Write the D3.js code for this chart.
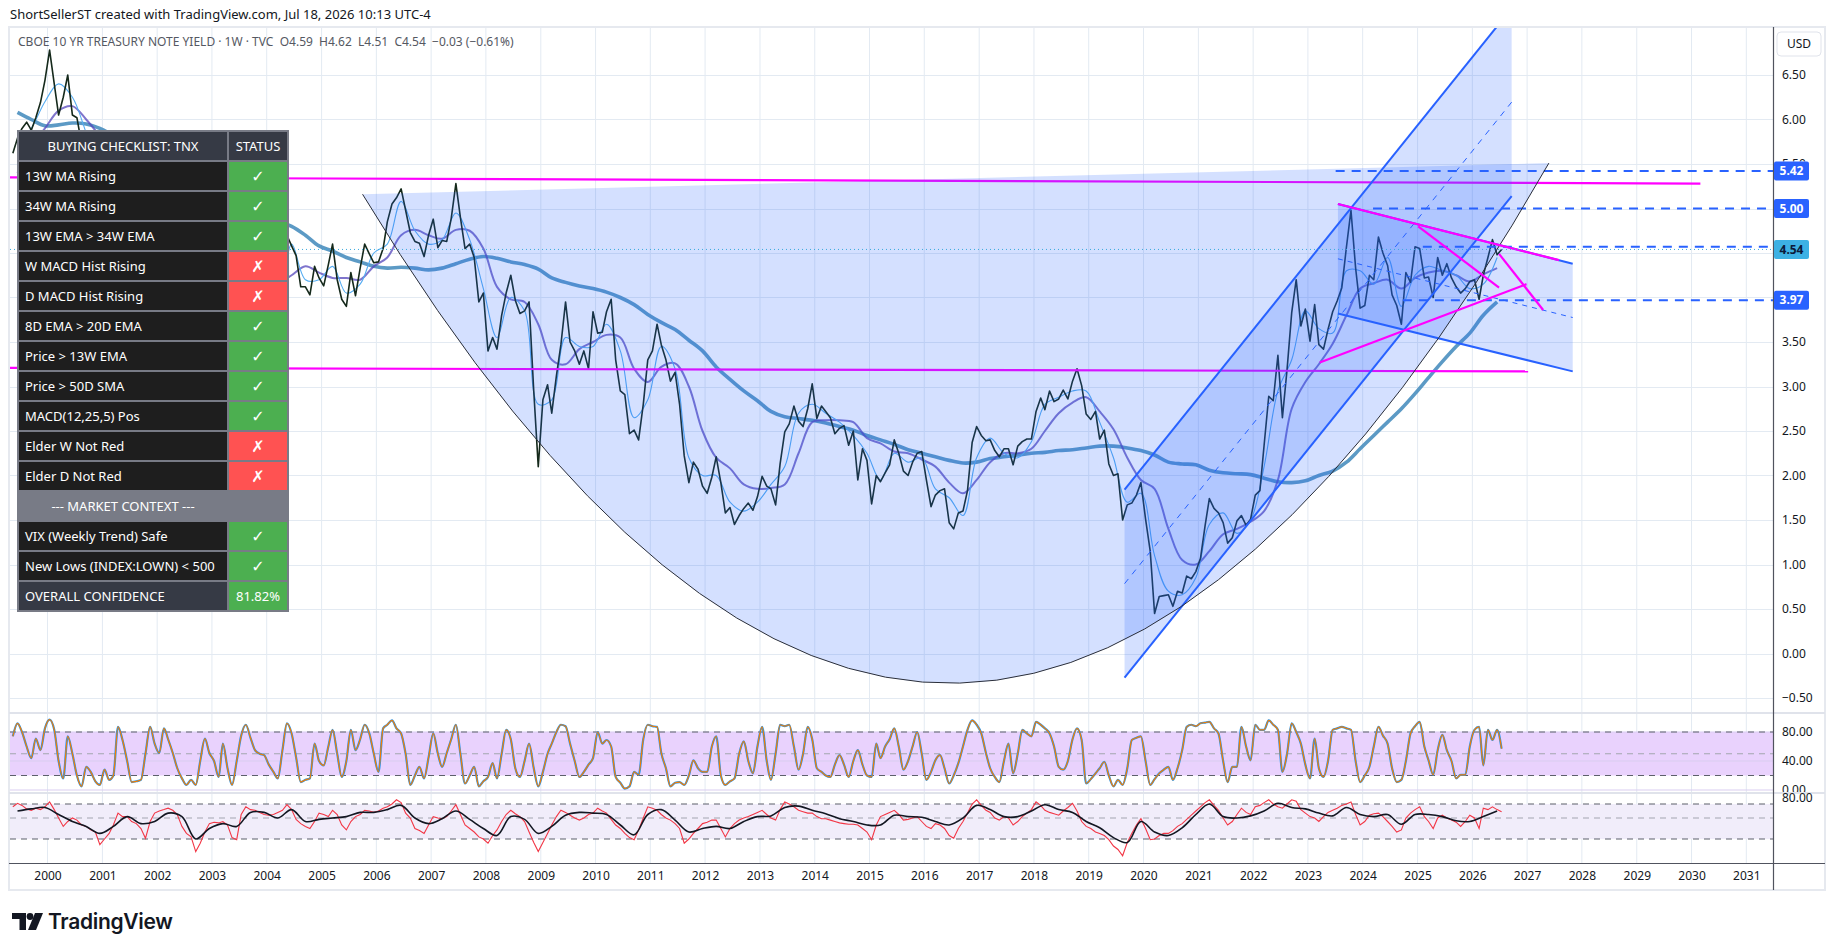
<!DOCTYPE html>
<html>
<head>
<meta charset="utf-8">
<title>TNX weekly</title>
<script src="https://cdn.jsdelivr.net/npm/d3@7"></script>
<style>
  body { margin: 0; background: #ffffff; }
  svg { display: block; font-family: "Noto Sans", "DejaVu Sans", sans-serif; }
  text { white-space: pre; }
</style>
</head>
<body>
<svg id="chart" width="1835" height="951"></svg>
<script>
// ---- data ----
const FIRST_MONTH = "1999-05";   // monthly series start here
const FIRST_QUARTER = "1999-06"; // quarterly series start here, step 3 months

// monthly closes of the 10Y yield
const closes = [
  5.62, 5.79, 5.90, 5.97, 5.88, 6.02, 6.19, 6.44,
  6.78, 6.40, 6.05, 6.25, 6.50, 6.05, 6.02, 5.73, 5.80, 5.75, 5.47, 5.12,
  5.15, 4.90, 4.92, 5.35, 5.38, 5.41, 5.05, 4.84, 4.59, 4.23, 4.75, 5.05,
  5.03, 4.87, 5.40, 5.09, 5.04, 4.80, 4.46, 4.14, 3.60, 3.89, 4.21, 3.81,
  3.96, 3.69, 3.80, 3.84, 3.37, 3.52, 4.41, 4.47, 3.94, 4.29, 4.33, 4.25,
  4.13, 3.97, 3.84, 4.50, 4.70, 4.58, 4.47, 4.12, 4.12, 4.03, 4.35, 4.22,
  4.13, 4.37, 4.60, 4.20, 3.98, 3.90, 4.28, 4.02, 4.33, 4.60, 4.49, 4.39,
  4.40, 4.55, 4.85, 5.05, 5.12, 5.22, 4.98, 4.73, 4.63, 4.61, 4.46, 4.70,
  4.88, 4.56, 4.64, 4.63, 4.89, 5.28, 4.90, 4.55, 4.60, 4.45, 3.95, 4.05,
  3.40, 3.55, 3.42, 3.80, 4.05, 4.25, 3.97, 3.82, 3.85, 3.95, 2.95, 2.10,
  2.85, 3.02, 2.70, 3.12, 3.47, 3.95, 3.50, 3.40, 3.25, 3.40, 3.20, 3.84,
  3.60, 3.61, 3.84, 3.98, 3.30, 2.95, 2.91, 2.47, 2.51, 2.40, 2.80, 3.30,
  3.40, 3.70, 3.47, 3.30, 3.06, 3.16, 2.80, 2.22, 1.92, 2.15, 2.07, 1.88,
  1.80, 1.98, 2.21, 1.92, 1.58, 1.64, 1.45, 1.55, 1.63, 1.69, 1.61, 1.76,
  1.99, 1.88, 1.85, 1.67, 2.13, 2.49, 2.58, 2.78, 2.61, 2.55, 2.75, 3.03,
  2.64, 2.78, 2.72, 2.65, 2.47, 2.53, 2.56, 2.34, 2.50, 1.95, 2.30, 2.17,
  1.68, 2.00, 1.93, 2.03, 2.12, 2.40, 2.25, 2.05, 2.00, 2.15, 2.25, 2.27,
  1.95, 1.65, 1.78, 1.83, 1.85, 1.47, 1.40, 1.58, 1.60, 1.83, 2.37, 2.55,
  2.45, 2.39, 2.40, 2.28, 2.21, 2.30, 2.30, 2.12, 2.33, 2.38, 2.41, 2.41,
  2.72, 2.87, 2.74, 2.95, 2.83, 2.86, 2.96, 2.86, 3.06, 3.20, 3.01, 2.69,
  2.63, 2.72, 2.41, 2.51, 2.13, 2.00, 2.02, 1.50, 1.67, 1.69, 1.78, 1.92,
  1.51, 1.15, 0.45, 0.64, 0.65, 0.66, 0.53, 0.70, 0.68, 0.87, 0.84, 0.92,
  1.07, 1.44, 1.74, 1.63, 1.58, 1.47, 1.24, 1.30, 1.49, 1.55, 1.44, 1.51,
  1.78, 1.83, 2.34, 2.89, 2.84, 3.35, 2.65, 3.19, 3.83, 4.20, 3.68, 3.87,
  3.51, 3.92, 3.47, 3.42, 3.64, 3.84, 3.96, 4.11, 4.57, 4.98, 4.33, 3.88,
  3.91, 4.25, 4.20, 4.68, 4.50, 4.36, 4.03, 3.91, 3.70, 4.28, 4.17, 4.57,
  4.55, 4.22, 4.23, 4.00, 4.45, 4.25, 4.38, 4.22, 4.12, 4.05, 4.10, 4.18,
  4.20, 3.98, 4.25, 4.45, 4.65, 4.48, 4.54
];

// moving averages, quarterly readings
const fastMa = [
  5.70, 5.90, 6.20,
  6.40, 6.25, 5.85, 5.45,  5.00, 5.30, 4.85, 4.60,  5.10, 5.00, 4.10, 3.95,
  3.85, 3.55, 4.25, 4.25,  3.95, 4.60, 4.20, 4.20,  4.35, 4.05, 4.15, 4.50,
  4.60, 5.08, 4.75, 4.60,  4.65, 4.95, 4.65, 4.10,  3.55, 4.00, 3.85, 2.80,
  2.85, 3.55, 3.45, 3.45,  3.70, 3.40, 2.65, 2.85,  3.45, 3.20, 2.20, 2.00,
  2.00, 1.70, 1.60, 1.70,  1.90, 2.10, 2.70, 2.80,  2.70, 2.60, 2.45, 2.25,
  1.95, 2.25, 2.15, 2.20,  1.85, 1.75, 1.55, 2.20,  2.42, 2.25, 2.20, 2.38,
  2.80, 2.88, 2.95, 2.95,  2.60, 2.20, 1.70, 1.80,  1.10, 0.70, 0.66, 0.85,
  1.45, 1.58, 1.35, 1.50,  2.10, 2.95, 3.30, 3.85,  3.65, 3.60, 4.30, 4.30,
  4.15, 4.45, 3.90, 4.25,  4.35, 4.30, 4.25, 4.10,
  4.15, 4.45
];
const midMa = [
  5.40, 5.70, 5.90,
  6.10, 6.15, 6.00, 5.80,  5.40, 5.15, 5.15, 4.85,  4.95, 5.10, 4.70, 4.15,
  3.95, 3.75, 3.90, 4.15,  4.15, 4.25, 4.35, 4.28,  4.22, 4.22, 4.20, 4.35,
  4.45, 4.70, 4.76, 4.70,  4.66, 4.76, 4.75, 4.55,  4.12, 3.98, 3.95, 3.70,
  3.30, 3.25, 3.42, 3.50,  3.58, 3.55, 3.20, 3.05,  3.22, 3.26, 3.00, 2.50,
  2.20, 2.08, 1.90, 1.85,  1.86, 1.90, 2.25, 2.60,  2.62, 2.62, 2.60, 2.42,
  2.36, 2.27, 2.25, 2.18,  2.10, 1.92, 1.80, 1.95,  2.15, 2.25, 2.25, 2.30,
  2.50, 2.70, 2.82, 2.88,  2.72, 2.52, 2.20, 1.95,  1.85, 1.40, 1.05, 1.00,
  1.15, 1.34, 1.40, 1.48,  1.60, 1.95, 2.75, 3.05,  3.25, 3.48, 3.80, 4.10,
  4.16, 4.20, 4.10, 4.22,  4.28, 4.30, 4.25, 4.18,
  4.26, 4.33
];
const slowMa = [
  6.08, 6.00, 5.93,
  5.94, 5.96, 5.95, 5.90,  5.82, 5.75, 5.68, 5.58,  5.50, 5.42, 5.30, 5.18,
  5.08, 4.98, 4.92, 4.88,  4.86, 4.80, 4.70, 4.58,  4.52, 4.45, 4.40, 4.35,
  4.33, 4.34, 4.33, 4.31,  4.33, 4.38, 4.43, 4.46,  4.44, 4.40, 4.37, 4.32,
  4.22, 4.17, 4.13, 4.10,  4.06, 4.00, 3.92, 3.81,  3.72, 3.64, 3.52, 3.40,
  3.22, 3.08, 2.95, 2.84,  2.72, 2.66, 2.64, 2.62,  2.59, 2.55, 2.51, 2.45,
  2.40, 2.35, 2.29, 2.25,  2.21, 2.17, 2.14, 2.15,  2.19, 2.21, 2.23, 2.25,
  2.26, 2.28, 2.29, 2.31,  2.33, 2.33, 2.31, 2.28,  2.23, 2.15, 2.13, 2.12,
  2.06, 2.03, 2.02, 2.01,  1.97, 1.93, 1.92, 1.94,  2.00, 2.05, 2.15, 2.30,
  2.45, 2.60, 2.75, 2.92,  3.10, 3.28, 3.45, 3.60,
  3.80, 3.95
];

// stochastic %K (monthly) and the lower oscillator (monthly line, quarterly signal)
const stochK = [
  74, 92, 80, 60, 44, 71, 55, 85,
  97, 83, 40, 16, 74, 50, 20, 5, 32, 25, 12, 7,
  28, 14, 20, 87, 69, 40, 11, 12, 14, 50, 87, 64,
  51, 85, 70, 51, 30, 16, 7, 14, 7, 40, 71, 51,
  40, 18, 64, 30, 7, 40, 75, 90, 72, 55, 50, 48,
  35, 25, 16, 55, 92, 78, 45, 11, 14, 16, 64, 40,
  34, 60, 83, 50, 18, 40, 83, 55, 70, 90, 78, 50,
  25, 85, 90, 96, 85, 78, 50, 7, 20, 32, 16, 45,
  78, 50, 32, 51, 70, 90, 50, 9, 20, 32, 5, 12,
  18, 37, 16, 50, 83, 70, 30, 18, 40, 64, 30, 5,
  25, 50, 64, 80, 90, 88, 64, 40, 18, 25, 35, 44,
  80, 64, 69, 60, 18, 10, 2, 5, 25, 21, 70, 90,
  88, 87, 51, 30, 5, 10, 11, 7, 20, 41, 30, 25,
  25, 60, 74, 20, 7, 12, 16, 50, 67, 40, 23, 60,
  87, 40, 14, 50, 90, 88, 90, 60, 28, 50, 87, 70,
  30, 25, 20, 18, 35, 48, 35, 18, 40, 55, 35, 20,
  18, 64, 44, 60, 70, 85, 60, 28, 40, 60, 80, 50,
  14, 25, 41, 48, 30, 9, 20, 37, 60, 83, 96, 90,
  78, 51, 30, 18, 11, 40, 64, 23, 50, 83, 78, 74,
  94, 90, 85, 78, 60, 32, 28, 40, 70, 85, 69, 9,
  15, 23, 30, 39, 20, 5, 14, 7, 30, 69, 72, 74,
  40, 7, 15, 23, 28, 32, 14, 30, 55, 87, 90, 88,
  92, 93, 94, 85, 78, 40, 11, 32, 32, 87, 60, 41,
  90, 83, 83, 96, 90, 83, 25, 50, 92, 80, 64, 35,
  16, 71, 30, 18, 40, 83, 85, 87, 85, 83, 40, 11,
  20, 32, 60, 87, 75, 64, 30, 11, 14, 40, 78, 88,
  94, 60, 41, 21, 55, 76, 55, 40, 16, 21, 21, 60,
  83, 87, 34, 83, 69, 83, 57
];
const rsiLine = [
  66, 71, 68, 63, 61, 64, 62, 66,
  73, 62, 50, 38, 45, 50, 47, 40, 38, 33, 30, 12,
  20, 28, 40, 57, 52, 52, 45, 42, 35, 21, 45, 57,
  60, 62, 64, 61, 55, 38, 28, 23, 2, 14, 30, 42,
  44, 43, 45, 40, 22, 19, 55, 66, 62, 61, 58, 55,
  54, 55, 58, 61, 69, 62, 48, 42, 38, 35, 45, 57,
  55, 52, 61, 55, 40, 33, 45, 52, 55, 61, 60, 58,
  60, 64, 66, 70, 76, 72, 57, 50, 35, 32, 28, 40,
  52, 50, 49, 52, 60, 69, 55, 40, 35, 30, 23, 20,
  14, 25, 33, 45, 55, 61, 56, 52, 45, 30, 15, 2,
  15, 28, 40, 52, 61, 58, 54, 50, 47, 50, 55, 57,
  64, 60, 57, 48, 40, 35, 28, 22, 19, 33, 50, 66,
  64, 61, 55, 50, 47, 42, 35, 14, 20, 28, 35, 42,
  44, 47, 47, 35, 23, 35, 42, 47, 50, 52, 55, 58,
  61, 55, 50, 47, 62, 73, 70, 66, 61, 59, 57, 57,
  52, 49, 49, 47, 45, 43, 42, 41, 41, 40, 35, 30,
  19, 40, 52, 55, 58, 61, 55, 47, 48, 50, 52, 45,
  38, 35, 42, 40, 35, 25, 21, 35, 45, 57, 70, 76,
  68, 61, 58, 50, 47, 52, 50, 40, 45, 52, 57, 62,
  73, 68, 61, 58, 56, 54, 60, 65, 71, 60, 45, 38,
  35, 30, 28, 25, 19, 10, 5, -4, 15, 28, 40, 49,
  35, 19, 20, 25, 28, 28, 32, 38, 42, 48, 54, 60,
  66, 72, 76, 68, 61, 50, 40, 45, 55, 64, 58, 55,
  66, 68, 72, 76, 70, 66, 64, 70, 76, 74, 62, 57,
  52, 50, 45, 52, 58, 61, 64, 68, 70, 73, 55, 40,
  45, 54, 56, 57, 52, 45, 38, 30, 33, 50, 57, 62,
  66, 52, 45, 35, 50, 54, 50, 47, 44, 38, 45, 54,
  50, 35, 64, 62, 66, 62, 59
];
const rsiSignal = [
  60, 63, 65,
  55, 45, 38, 28,  38, 52, 42, 45,  57, 52, 20, 35,
  42, 38, 58, 58,  50, 62, 45, 48,  50, 52, 58, 58,
  62, 68, 50, 42,  49, 60, 48, 35,  25, 52, 48, 28,
  38, 54, 58, 57,  55, 40, 26, 55,  62, 47, 30, 35,
  38, 35, 45, 52,  53, 65, 67, 61,  56, 49, 45, 40,
  40, 54, 52, 51,  45, 40, 50, 68,  62, 52, 52, 60,
  69, 62, 58, 45,  36, 22, 15, 45,  30, 25, 36, 55,
  70, 52, 50, 53,  60, 71, 65, 63,  57, 53, 65, 55,
  52, 55, 41, 55,  55, 52, 46, 45,
  52, 60
];

// axis ticks
const priceTicks = [6.5, 6.0, 5.5, 5.0, 4.5, 4.0, 3.5, 3.0, 2.5, 2.0, 1.5, 1.0, 0.5, 0.0, -0.5];
const coveredPriceTicks = [5.0, 4.5, 4.0]; // sit under the level boxes
const yearTicks = [2000, 2001, 2002, 2003, 2004, 2005, 2006, 2007, 2008, 2009, 2010, 2011, 2012, 2013, 2014, 2015,
  2016, 2017, 2018, 2019, 2020, 2021, 2022, 2023, 2024, 2025, 2026, 2027, 2028, 2029, 2030, 2031];
const stochTicks = [80, 40, 0];
const stochLevels = [80, 50, 20];
const rsiLevels = [70, 50, 20];
const rsiTicks = [80];

// drawings: [date, value] anchors
const arcPoints = [["2005-10-01", 5.16], ["2016-09-20", -6.0], ["2027-05-26", 5.51]];
const risingChannelDates = ["2019-08-28", "2026-09-20"];
const risingChannelLow = [-0.27, 5.14];
const risingChannelHigh = [1.84, 7.25];
const fallingChannelDates = ["2023-07-20", "2027-11-01"];
const fallingChannelHigh = [5.05, 4.38];
const fallingChannelLow = [3.82, 3.17];
const magentaLevels = [
  [["1999-04-26", 5.35], ["2030-03-01", 5.28]],
  [["1999-04-26", 3.21], ["2027-01-08", 3.17]]
];
const triangleLines = [
  [["2023-07-20", 5.05], ["2027-08-01", 4.42]],
  [["2023-03-21", 3.27], ["2026-12-28", 4.15]],
  [["2025-01-05", 4.80], ["2026-06-28", 4.11]],
  [["2026-06-28", 4.49], ["2027-04-18", 3.86]]
];
const levelRays = [["2023-07-05", 5.42], ["2024-03-10", 5.00], ["2025-02-05", 4.57], ["2024-09-25", 3.97]];
const levelLabels = [5.42, 5.00, 3.97];
const lastPrice = 4.54;

// checklist table
const checklistRows = [
  ["13W MA Rising", true], ["34W MA Rising", true], ["13W EMA > 34W EMA", true],
  ["W MACD Hist Rising", false], ["D MACD Hist Rising", false], ["8D EMA > 20D EMA", true],
  ["Price > 13W EMA", true], ["Price > 50D SMA", true], ["MACD(12,25,5) Pos", true],
  ["Elder W Not Red", false], ["Elder D Not Red", false]
];
const contextRows = [["VIX (Weekly Trend) Safe", true], ["New Lows (INDEX:LOWN) < 500", true]];
const overallConfidence = "81.82%";

// ---- helpers ----
const parseDay = d3.utcParse("%Y-%m-%d");
const parseMonth = d3.utcParse("%Y-%m");

function monthly(values) {
    const start = parseMonth(FIRST_MONTH);
    return values.map((v, i) => ({ date: d3.utcDay.offset(d3.utcMonth.offset(start, i), 14), value: v }));
}

function quarterly(values) {
    const start = parseMonth(FIRST_QUARTER);
    return values.map((v, i) => ({ date: d3.utcDay.offset(d3.utcMonth.offset(start, i * 3), 14), value: v }));
}

const svg = d3.select("#chart");
const plotLeft = 10, plotRight = 1773;

const x = d3.scaleUtc()
    .domain([Date.UTC(2000, 0, 1), Date.UTC(2031, 0, 1)])
    .range([47.5, 1746.3]);
const y = d3.scaleLinear().domain([-0.5, 6.5]).range([698, 75]);
const yStoch = d3.scaleLinear().domain([0, 80]).range([790, 732]);
const yRsi = d3.scaleLinear().domain([20, 70]).range([839, 804]);

const defs = svg.append("defs");
function addClip(id, x0, y0, w, h) {
    defs.append("clipPath").attr("id", id)
        .append("rect").attr("x", x0).attr("y", y0).attr("width", w).attr("height", h);
}
addClip("clip-main", plotLeft, 28, plotRight - plotLeft, 683);
addClip("clip-stoch", plotLeft, 714, plotRight - plotLeft, 78);
addClip("clip-rsi", plotLeft, 794, plotRight - plotLeft, 68);
addClip("clip-stoch-axis", plotRight, 714, 60, 78);
addClip("clip-price-axis", plotRight, 28, 60, y(5.42) - 9.5 - 28);

const pt = ([d, v]) => [x(parseDay(d)), y(v)];

function drawFrame() {
    svg.append("rect")
        .attr("x", 9).attr("y", 27).attr("width", 1816).attr("height", 863)
        .attr("fill", "#ffffff").attr("stroke", "#e6e9ef").attr("stroke-width", 2);

    // year grid through all panes
    const yearDates = yearTicks.map(yr => Date.UTC(yr, 0, 1));
    svg.append("g").selectAll("line")
        .data(yearDates)
        .enter().append("line")
        .attr("x1", d => x(d)).attr("x2", d => x(d))
        .attr("y1", 28).attr("y2", 863)
        .attr("stroke", "#e3eaf2").attr("stroke-width", 1);

    svg.append("g").selectAll("line")
        .data(priceTicks)
        .enter().append("line")
        .attr("x1", plotLeft).attr("x2", plotRight)
        .attr("y1", d => Math.round(y(d)) + 0.5).attr("y2", d => Math.round(y(d)) + 0.5)
        .attr("stroke", "#e3eaf2");

    // pane separators
    [713, 793].forEach(sy => {
        svg.append("line")
            .attr("x1", 9).attr("x2", 1825).attr("y1", sy).attr("y2", sy)
            .attr("stroke", "#e0e3eb").attr("stroke-width", 2);
    });
}

function drawMainSeries() {
    const g = svg.append("g").attr("clip-path", "url(#clip-main)");
    const smooth = d3.line().x(d => x(d.date)).y(d => y(d.value)).curve(d3.curveCatmullRom.alpha(0.5));
    const straight = d3.line().x(d => x(d.date)).y(d => y(d.value));

    g.append("path").datum(quarterly(slowMa))
        .attr("d", smooth).attr("fill", "none")
        .attr("stroke", "#4a8fbf").attr("stroke-opacity", 0.9)
        .attr("stroke-width", 3.6).attr("stroke-linejoin", "round");
    g.append("path").datum(quarterly(midMa))
        .attr("d", smooth).attr("fill", "none")
        .attr("stroke", "#5446bb").attr("stroke-opacity", 0.75).attr("stroke-width", 2);
    g.append("path").datum(quarterly(fastMa))
        .attr("d", smooth).attr("fill", "none")
        .attr("stroke", "#56adf2").attr("stroke-width", 1.1);
    g.append("path").datum(monthly(closes))
        .attr("d", straight).attr("fill", "none")
        .attr("stroke", "#15291b").attr("stroke-width", 1.6).attr("stroke-linejoin", "round");
}

function drawLevelLines() {
    const g = svg.append("g").attr("clip-path", "url(#clip-main)");
    const seg = d3.line();

    g.selectAll(".mag-level")
        .data(magentaLevels)
        .enter().append("path")
        .attr("d", d => seg(d.map(pt)))
        .attr("stroke", "#ff00ff").attr("stroke-width", 2.2).attr("fill", "none");

    g.selectAll(".ray")
        .data(levelRays)
        .enter().append("line")
        .attr("x1", d => x(parseDay(d[0]))).attr("x2", plotRight)
        .attr("y1", d => y(d[1])).attr("y2", d => y(d[1]))
        .attr("stroke", "#2962ff").attr("stroke-width", 2).attr("stroke-dasharray", "9,7");

    // falling channel lines
    const fd = fallingChannelDates.map(d => parseDay(d));
    const fallLine = vals => seg(fd.map((d, i) => [x(d), y(vals[i])]));
    g.append("path").attr("d", fallLine(fallingChannelHigh)).attr("stroke", "#2962ff").attr("stroke-width", 2).attr("fill", "none");
    g.append("path").attr("d", fallLine(fallingChannelLow)).attr("stroke", "#2962ff").attr("stroke-width", 2).attr("fill", "none");
    g.append("path").attr("d", fallLine(fallingChannelHigh.map((v, i) => (v + fallingChannelLow[i]) / 2)))
        .attr("stroke", "#2962ff").attr("stroke-width", 1).attr("stroke-dasharray", "5,5").attr("fill", "none");

    // rising channel lines
    const rd = risingChannelDates.map(d => parseDay(d));
    const riseLine = vals => seg(rd.map((d, i) => [x(d), y(vals[i])]));
    g.append("path").attr("d", riseLine(risingChannelLow)).attr("stroke", "#2962ff").attr("stroke-width", 2).attr("fill", "none");
    g.append("path").attr("d", riseLine(risingChannelHigh)).attr("stroke", "#2962ff").attr("stroke-width", 2).attr("fill", "none");
    g.append("path").attr("d", riseLine(risingChannelHigh.map((v, i) => (v + risingChannelLow[i]) / 2)))
        .attr("stroke", "#2962ff").attr("stroke-width", 1).attr("stroke-dasharray", "6,6").attr("fill", "none");
}

function drawFills() {
    const g = svg.append("g").attr("clip-path", "url(#clip-main)");
    const fill = "rgba(41, 98, 255, 0.2)";

    const [p0, c, p2] = arcPoints.map(pt);
    const arc = d3.path();
    arc.moveTo(p0[0], p0[1]);
    arc.quadraticCurveTo(c[0], c[1], p2[0], p2[1]);
    arc.closePath();
    g.append("path").attr("d", arc.toString()).attr("fill", fill);

    const band = d3.area().x(d => x(d.date)).y0(d => y(d.lo)).y1(d => y(d.hi));
    g.append("path")
        .datum(risingChannelDates.map((d, i) => ({ date: parseDay(d), lo: risingChannelLow[i], hi: risingChannelHigh[i] })))
        .attr("d", band).attr("fill", fill);
    g.append("path")
        .datum(fallingChannelDates.map((d, i) => ({ date: parseDay(d), lo: fallingChannelLow[i], hi: fallingChannelHigh[i] })))
        .attr("d", band).attr("fill", fill);

    const curve = d3.path();
    curve.moveTo(p0[0], p0[1]);
    curve.quadraticCurveTo(c[0], c[1], p2[0], p2[1]);
    g.append("path").attr("d", curve.toString())
        .attr("fill", "none").attr("stroke", "#2a2e39").attr("stroke-width", 1);
}

function drawTriangle() {
    const g = svg.append("g").attr("clip-path", "url(#clip-main)");
    const seg = d3.line();
    g.selectAll("path")
        .data(triangleLines)
        .enter().append("path")
        .attr("d", d => seg(d.map(pt)))
        .attr("stroke", "#ff00ff").attr("stroke-width", 2.2).attr("fill", "none");

    g.append("line")
        .attr("x1", plotLeft).attr("x2", plotRight)
        .attr("y1", y(lastPrice)).attr("y2", y(lastPrice))
        .attr("stroke", "#3aa9dd").attr("stroke-width", 1).attr("stroke-dasharray", "1,3");
}

function drawOscillators() {
    // stochastic pane
    const gs = svg.append("g").attr("clip-path", "url(#clip-stoch)");
    gs.append("rect")
        .attr("x", plotLeft).attr("width", plotRight - plotLeft)
        .attr("y", yStoch(80)).attr("height", yStoch(20) - yStoch(80))
        .attr("fill", "#e9d2fd");
    gs.selectAll(".grid")
        .data(stochTicks)
        .enter().append("line")
        .attr("x1", plotLeft).attr("x2", plotRight)
        .attr("y1", d => yStoch(d)).attr("y2", d => yStoch(d))
        .attr("stroke", "#d9cdf0");
    gs.selectAll(".lvl")
        .data(stochLevels)
        .enter().append("line")
        .attr("x1", plotLeft).attr("x2", plotRight)
        .attr("y1", d => yStoch(d)).attr("y2", d => yStoch(d))
        .attr("stroke", d => d === 50 ? "#a3a6af" : "#5d606b")
        .attr("stroke-width", 1.2).attr("stroke-dasharray", "6,5");

    const stochPath = d3.line().x(d => x(d.date)).y(d => yStoch(d.value)).curve(d3.curveMonotoneX);
    gs.append("path").datum(monthly(stochK)).attr("d", stochPath)
        .attr("fill", "none").attr("stroke", "#2196f3").attr("stroke-width", 2.2);
    gs.append("path").datum(monthly(stochK)).attr("d", stochPath)
        .attr("fill", "none").attr("stroke", "#f57c00").attr("stroke-width", 1.2);

    // lower oscillator pane
    const gr = svg.append("g").attr("clip-path", "url(#clip-rsi)");
    gr.append("rect")
        .attr("x", plotLeft).attr("width", plotRight - plotLeft)
        .attr("y", yRsi(70)).attr("height", yRsi(20) - yRsi(70))
        .attr("fill", "#f1edfa");
    gr.selectAll(".lvl")
        .data(rsiLevels)
        .enter().append("line")
        .attr("x1", plotLeft).attr("x2", plotRight)
        .attr("y1", d => yRsi(d)).attr("y2", d => yRsi(d))
        .attr("stroke", d => d === 50 ? "#a3a6af" : "#5d606b")
        .attr("stroke-width", 1.2).attr("stroke-dasharray", "6,5");

    const rsiPath = d3.line().x(d => x(d.date)).y(d => yRsi(d.value));
    gr.append("path").datum(monthly(rsiLine)).attr("d", rsiPath)
        .attr("fill", "none").attr("stroke", "#f23645").attr("stroke-width", 1.1);
    gr.append("path").datum(quarterly(rsiSignal))
        .attr("d", rsiPath.curve(d3.curveCatmullRom.alpha(0.5)))
        .attr("fill", "none").attr("stroke", "#131722").attr("stroke-width", 1.6);
}

function styleAxisText(sel) {
    sel.select(".domain").remove();
    sel.selectAll("text").attr("font-size", 12).attr("fill", "#131722").attr("font-family", "Noto Sans");
}

function drawAxes() {
    // price scale
    svg.append("line")
        .attr("x1", plotRight + 0.5).attr("x2", plotRight + 0.5).attr("y1", 27).attr("y2", 890)
        .attr("stroke", "#50535e").attr("stroke-width", 1.2);

    const openTicks = priceTicks.filter(v => v < 5.5 && !coveredPriceTicks.includes(v));
    const priceAxis = d3.axisRight(y).tickValues(openTicks).tickFormat(d3.format(".2f")).tickSize(0).tickPadding(9);
    styleAxisText(svg.append("g").attr("transform", `translate(${plotRight},0)`).call(priceAxis));

    // the upper labels are cut by the 5.42 box, as on the original
    const topAxis = d3.axisRight(y).tickValues(priceTicks.filter(v => v >= 5.5)).tickFormat(d3.format(".2f")).tickSize(0).tickPadding(9);
    styleAxisText(svg.append("g").attr("clip-path", "url(#clip-price-axis)")
        .append("g").attr("transform", `translate(${plotRight},0)`).call(topAxis));

    const stochAxis = d3.axisRight(yStoch).tickValues(stochTicks).tickFormat(d3.format(".2f")).tickSize(0).tickPadding(9);
    styleAxisText(svg.append("g").attr("clip-path", "url(#clip-stoch-axis)")
        .append("g").attr("transform", `translate(${plotRight},0)`).call(stochAxis));

    const rsiAxis = d3.axisRight(yRsi).tickValues(rsiTicks).tickFormat(d3.format(".2f")).tickSize(0).tickPadding(9);
    styleAxisText(svg.append("g").attr("transform", `translate(${plotRight},1)`).call(rsiAxis));

    // level label boxes
    const boxes = svg.append("g");
    const drawBox = (v, bg, fg) => {
        const b = boxes.append("g").attr("transform", `translate(${plotRight + 1},${y(v)})`);
        b.append("rect").attr("x", 0).attr("y", -9.5).attr("width", 35).attr("height", 19).attr("rx", 2).attr("fill", bg);
        b.append("text").attr("x", 17.5).attr("y", 0).attr("dy", "0.35em").attr("text-anchor", "middle")
            .attr("font-size", 12).attr("font-weight", 700).attr("fill", fg).text(d3.format(".2f")(v));
    };
    levelLabels.forEach(v => drawBox(v, "#2962ff", "#ffffff"));
    drawBox(lastPrice, "#3db1e4", "#0c1a3a");

    const usd = svg.append("g").attr("transform", "translate(1777,32)");
    usd.append("rect").attr("width", 44).attr("height", 24).attr("rx", 4)
        .attr("fill", "#ffffff").attr("stroke", "#e0e3eb");
    usd.append("text").attr("x", 22).attr("y", 12).attr("dy", "0.35em").attr("text-anchor", "middle")
        .attr("font-size", 12).attr("fill", "#131722").text("USD");

    // time scale
    svg.append("line")
        .attr("x1", 9).attr("x2", 1825).attr("y1", 863.5).attr("y2", 863.5)
        .attr("stroke", "#50535e").attr("stroke-width", 1.2);
    const timeAxis = d3.axisBottom(x)
        .tickValues(yearTicks.map(yr => new Date(Date.UTC(yr, 0, 1))))
        .tickFormat(d3.utcFormat("%Y")).tickSize(0).tickPadding(8);
    styleAxisText(svg.append("g").attr("transform", "translate(0,863)").call(timeAxis));
}

function drawTable() {
    const g = svg.append("g").attr("class", "checklist");
    const left = 18, split = 228, right = 288, top = 131, rowH = 30;
    const rows = [{ kind: "header", label: "BUYING CHECKLIST: TNX", status: "STATUS" }]
        .concat(checklistRows.map(([label, ok]) => ({ kind: "item", label, ok })))
        .concat([{ kind: "section", label: "--- MARKET CONTEXT ---" }])
        .concat(contextRows.map(([label, ok]) => ({ kind: "item", label, ok })))
        .concat([{ kind: "total", label: "OVERALL CONFIDENCE", status: overallConfidence }]);

    g.append("rect")
        .attr("x", left - 1).attr("y", top - 1)
        .attr("width", right - left + 2).attr("height", rows.length * rowH + 2)
        .attr("fill", "#787b86");

    rows.forEach((r, i) => {
        const ry = top + i * rowH;
        if (r.kind === "section") {
            g.append("rect").attr("x", left).attr("y", ry).attr("width", right - left).attr("height", rowH).attr("fill", "#787b86");
            g.append("text").attr("x", (left + split) / 2).attr("y", ry + rowH / 2).attr("dy", "0.35em")
                .attr("text-anchor", "middle").attr("font-size", 13).attr("fill", "#ffffff").text(r.label);
            return;
        }
        const leftBg = r.kind === "item" ? "#1e1e1e" : "#363a45";
        const rightBg = r.kind === "header" ? "#363a45" : (r.kind === "total" || r.ok ? "#4caf50" : "#ff5252");
        g.append("rect").attr("x", left + 1).attr("y", ry + 1).attr("width", split - left - 2).attr("height", rowH - 2).attr("fill", leftBg);
        g.append("rect").attr("x", split + 1).attr("y", ry + 1).attr("width", right - split - 2).attr("height", rowH - 2).attr("fill", rightBg);

        g.append("text")
            .attr("x", r.kind === "header" ? (left + split) / 2 : left + 7)
            .attr("y", ry + rowH / 2).attr("dy", "0.35em")
            .attr("text-anchor", r.kind === "header" ? "middle" : "start")
            .attr("font-size", 13).attr("fill", "#ffffff").text(r.label);

        const status = r.kind === "item" ? (r.ok ? "\u2713" : "\u2717") : r.status;
        g.append("text")
            .attr("x", (split + right) / 2).attr("y", ry + rowH / 2).attr("dy", "0.36em")
            .attr("text-anchor", "middle")
            .attr("font-family", r.kind === "item" ? "DejaVu Sans" : "Noto Sans")
            .attr("font-size", r.kind === "item" ? 16 : 13)
            .attr("font-weight", r.kind === "item" ? 700 : 400)
            .attr("fill", "#ffffff").text(status);
    });
}

function drawTexts() {
    svg.append("text").attr("x", 10).attr("y", 19)
        .attr("font-size", 13).attr("fill", "#131722")
        .text("ShortSellerST created with TradingView.com, Jul 18, 2026 10:13 UTC-4");

    const legend = svg.append("text").attr("x", 18).attr("y", 46).attr("font-size", 12).attr("fill", "#555862");
    legend.append("tspan").text("CBOE 10 YR TREASURY NOTE YIELD \u00b7 1W \u00b7 TVC  ");
    legend.append("tspan").text("O4.59  H4.62  L4.51  C4.54  \u22120.03 (\u22120.61%)");

    // TradingView logo
    const logo = svg.append("g").attr("fill", "#131722");
    logo.append("path").attr("d", "M12,913 H26 V930 H19.5 V919 H12 Z");
    logo.append("circle").attr("cx", 30).attr("cy", 916.5).attr("r", 3.4);
    logo.append("path").attr("d", "M35,913 H43 L36,930 H28 Z");
    logo.append("text").attr("x", 48).attr("y", 929)
        .attr("font-family", "Inter, Lato, sans-serif").attr("font-size", 21).attr("font-weight", 600)
        .attr("letter-spacing", -0.3).text("TradingView");
}

drawFrame();
drawMainSeries();
drawLevelLines();
drawFills();
drawTriangle();
drawOscillators();
drawTable();
drawAxes();
drawTexts();
</script>
</body>
</html>
